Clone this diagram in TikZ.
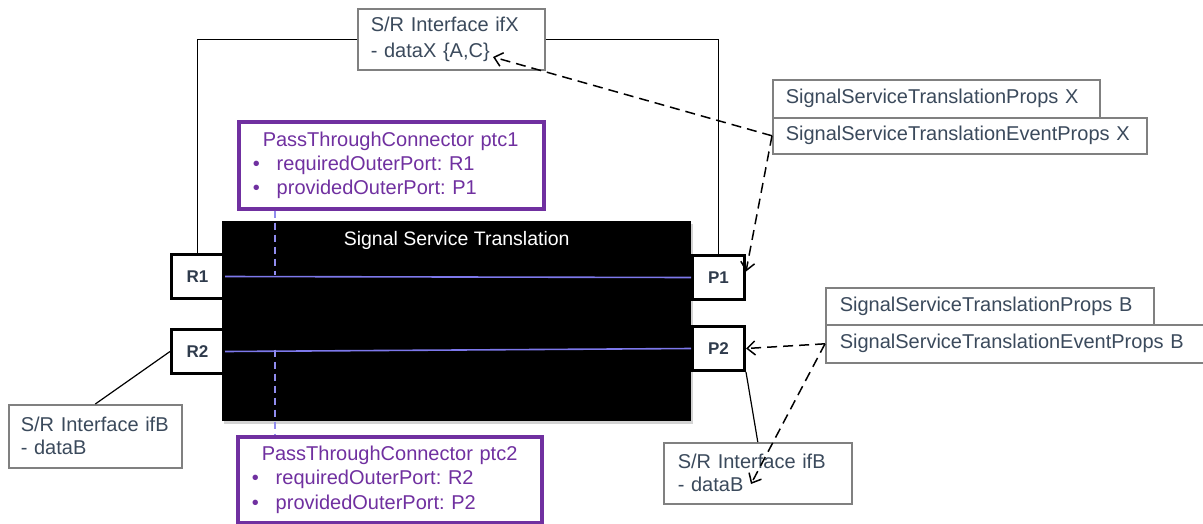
\documentclass[tikz,border=0pt]{standalone}
\usepackage{fontspec}
\setmainfont{Liberation Sans}
\usetikzlibrary{arrows.meta,shadows}
\definecolor{txt}{HTML}{3B4A5C}
\definecolor{boxgray}{HTML}{808080}
\definecolor{ptcpurple}{HTML}{7030A0}
\definecolor{wire}{RGB}{125,120,235}
\definecolor{portc}{HTML}{2F3B4C}
\begin{document}
\frenchspacing
\begin{tikzpicture}[x=1pt,y=-1pt,
  txtbox/.style={draw=boxgray, line width=1.6pt, fill=white, text=txt,
    font=\fontsize{20}{23}\selectfont, align=left, anchor=north west,
    inner ysep=0pt, inner xsep=13pt},
  ptcbox/.style={draw=ptcpurple, line width=3.5pt, fill=white, text=ptcpurple,
    font=\fontsize{20}{24}\selectfont, align=left, anchor=north west,
    inner xsep=14pt, inner ysep=0pt},
  port/.style={draw=black, line width=3pt, fill=white, text=portc,
    font=\fontsize{17}{20}\selectfont\bfseries, minimum width=52pt,
    minimum height=44pt, inner sep=0pt, anchor=north west},
  wireline/.style={draw=wire, line width=1.6pt},
  ptcdash/.style={draw=wire!85, line width=1.3pt, dash pattern=on 7pt off 5pt},
  dep/.style={draw=black, line width=1.5pt, dash pattern=on 10pt off 6pt,
    -{Straight Barb[length=8pt,width=14pt]}},
  frameline/.style={draw=black, line width=1.3pt},
  assoc/.style={draw=black, line width=1.2pt}]
\useasboundingbox (0,0) rectangle (1203,523);
\clip (0,0) rectangle (1203,523);

% main block
\node[fill=black, minimum width=469pt, minimum height=200pt, anchor=north west,
  inner sep=0pt, drop shadow={shadow xshift=1.5pt, shadow yshift=-2.5pt, opacity=0.35}]
  (sst) at (222,221) {};
\node[text=white, font=\fontsize{19.5}{22}\selectfont] (ssttitle)
  at ([yshift=-19pt]sst.north) {Signal Service Translation};

% interface box X
\node[txtbox, font=\fontsize{20}{26}\selectfont, text width=161pt, minimum height=61pt]
  (ifX) at (357,8) {S/R Interface ifX\\- dataX \{A,C\}};

% ports
\node[port] (R1) at (170,253) {R1};
\node[port] (R2) at (170,328) {R2};
\node[port] (P1) at (691,254) {P1};
\node[port] (P2) at (691,325) {P2};

% outer frame
\draw[frameline] (R1.north) |- (ifX.west);
\draw[frameline] (ifX.east) -| (P1.north);

% pass-through wires
\draw[wireline] (R1.east) -- (P1.west);
\draw[wireline] (R2.east) -- (P2.west);

% pass-through connector boxes
\node[ptcbox, text width=277pt, minimum height=87pt] (ptc1) at (237,120)
  {\hspace*{10pt}PassThroughConnector ptc1\\
   \makebox[24pt][l]{\textbullet}requiredOuterPort: R1\\
   \makebox[24pt][l]{\textbullet}providedOuterPort: P1};
\node[ptcbox, text width=276pt, minimum height=86pt, font=\fontsize{20}{24.5}\selectfont]
  (ptc2) at (236,435)
  {\hspace*{10pt}PassThroughConnector ptc2\\
   \makebox[24pt][l]{\textbullet}requiredOuterPort: R2\\
   \makebox[24pt][l]{\textbullet}providedOuterPort: P2};

\coordinate (t1) at (275,275.3);
\coordinate (t2) at (275,349.7);
\draw[ptcdash] (t1 |- ptc1.south) -- (t1);
\draw[ptcdash] (t2) -- (t2 |- ptc2.north);

% interface B boxes
\node[txtbox, inner xsep=12pt, text width=149pt, minimum height=63pt]
  (ifBL) at (8,404) {S/R Interface ifB\\- dataB};
\node[txtbox, inner xsep=14pt, text width=160pt, minimum height=61pt]
  (ifBR) at (663,442) {S/R Interface ifB\\- dataB};

\draw[assoc] (R2.west) -- (ifBL.north);
\draw[assoc] (P2.south east) -- (ifBR.north);

% translation props
\node[txtbox, text width=301pt, minimum height=38pt] (propsX) at (772,79)
  {SignalServiceTranslationProps X};
\node[txtbox, text width=348pt, minimum height=36pt] (evX) at (772,117)
  {SignalServiceTranslationEventProps X};
\node[txtbox, inner xsep=14pt, text width=300pt, minimum height=37pt] (propsB) at (825,287)
  {SignalServiceTranslationProps B};
\node[txtbox, inner xsep=14pt, text width=380pt, minimum height=38pt] (evB) at (825,324)
  {SignalServiceTranslationEventProps B};

% dependencies
\coordinate (ifXtip) at (493,57);
\coordinate (ifBtip) at (751,484);
\draw[dep] (evX.west) -- (ifXtip);
\draw[dep] (evX.west) -- ([yshift=6pt]P1.east);
\draw[dep] (evB.west) -- (P2.east);
\draw[dep] (evB.west) -- (ifBtip);
\end{tikzpicture}
\end{document}
